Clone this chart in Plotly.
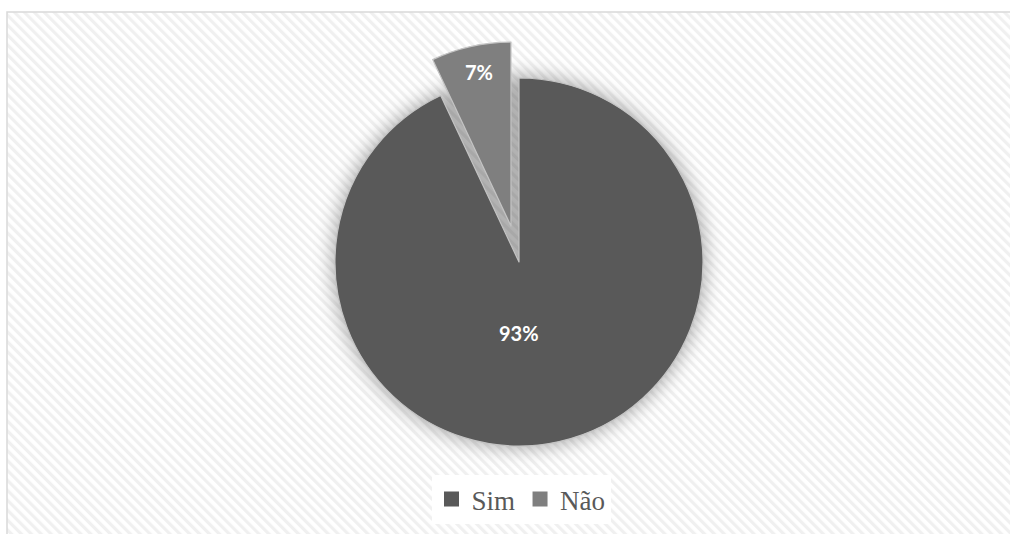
import base64
import plotly.graph_objects as go

labels = ["Sim", "Não"]
values = [93, 7]
colors = ["#595959", "#7f7f7f"]
pulls = [0, 0.2]
label_pos_px = [(519, 333), (479, 72)]  # label anchor positions (px)

W, H = 1010, 534
cx, cy, R = 519, 262, 184  # pie centre / radius in px (layout styling)
ext = R * (1 + max(pulls))
dom_x = [(cx - ext) / W, (cx + ext) / W]
dom_y = [1 - (cy + ext) / H, 1 - (cy - ext) / H]

svg = f'''<svg xmlns="http://www.w3.org/2000/svg" width="{W}" height="{H}" viewBox="0 0 {W} {H}">
<defs>
<pattern id="p" width="7" height="7" patternUnits="userSpaceOnUse" patternTransform="rotate(-45)">
<rect width="7" height="7" fill="#ffffff"/>
<rect width="3.2" height="7" fill="#f0f0f0"/>
</pattern>
<filter id="b" x="-50%" y="-50%" width="200%" height="200%"><feGaussianBlur stdDeviation="9"/></filter>
</defs>
<rect x="7" y="12" width="{W * 2}" height="{H * 2}" fill="url(#p)" stroke="#d9d9d9" stroke-width="1.5"/>
<circle cx="{cx}" cy="{cy}" r="{R + 3}" fill="rgba(0,0,0,0.30)" filter="url(#b)"/>
</svg>'''
src = "data:image/svg+xml;base64," + base64.b64encode(svg.encode()).decode()

total = sum(values)
fig = go.Figure()
fig.add_trace(go.Pie(
    labels=labels, values=values, sort=False, direction="clockwise", rotation=0,
    pull=pulls, marker=dict(colors=colors, line=dict(color="#c4c4c4", width=1.2)),
    textinfo="none", showlegend=False,
    domain=dict(x=dom_x, y=dom_y), hoverinfo="label+percent",
))
for lab, col in zip(labels, colors):
    fig.add_trace(go.Scatter(x=[None], y=[None], mode="markers", name=lab,
                             marker=dict(symbol="square", size=15, color=col),
                             showlegend=True, hoverinfo="skip"))

annotations = []
for v, (px, py) in zip(values, label_pos_px):
    annotations.append(dict(text=f"<b>{round(100 * v / total)}%</b>", x=px / W, y=1 - py / H,
                            xref="paper", yref="paper", xanchor="center", yanchor="middle",
                            showarrow=False,
                            font=dict(family="Lato", size=20, color="white")))

fig.update_layout(
    width=W, height=H, margin=dict(l=0, r=0, t=0, b=0),
    paper_bgcolor="white", plot_bgcolor="rgba(0,0,0,0)",
    xaxis=dict(visible=False), yaxis=dict(visible=False),
    images=[dict(source=src, xref="paper", yref="paper", x=0, y=1, sizex=1, sizey=1,
                 xanchor="left", yanchor="top", sizing="stretch", layer="below")],
    annotations=annotations,
    showlegend=True,
    legend=dict(orientation="h", x=521 / W, xanchor="center", y=1 - 475 / H, yanchor="top",
                bgcolor="white", font=dict(family="Liberation Serif", size=27, color="#595959"),
                itemsizing="trace", itemwidth=30, traceorder="normal"),
)

fig.write_html("out.html", config={"displayModeBar": False},
               post_script="document.body.style.margin='0';document.body.style.overflow='hidden';"
                           "document.documentElement.style.overflow='hidden';")
